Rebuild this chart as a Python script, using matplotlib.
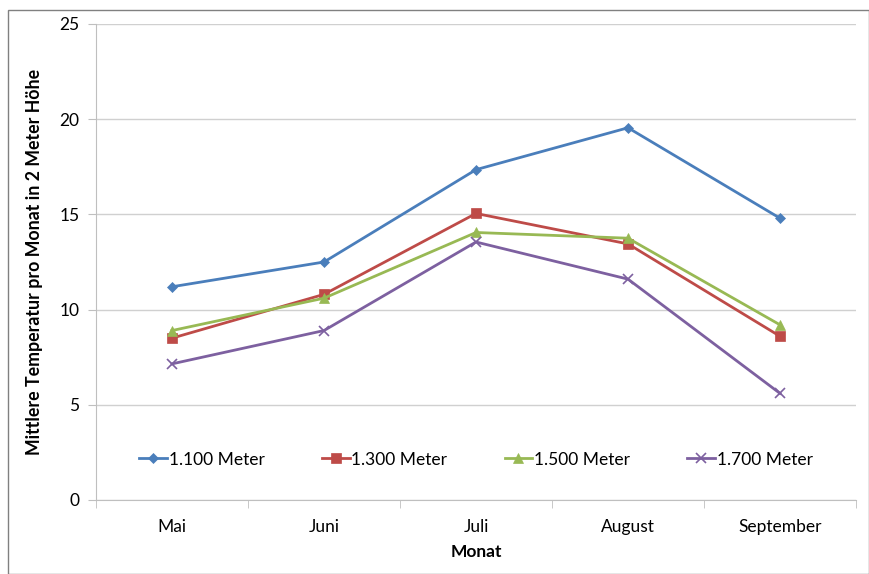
import matplotlib.pyplot as plt
from matplotlib.patches import Rectangle

plt.rcParams['font.family'] = ['Lato', 'DejaVu Sans']

months = ['Mai', 'Juni', 'Juli', 'August', 'September']
labels = ['1.100 Meter', '1.300 Meter', '1.500 Meter', '1.700 Meter']
m1100 = [11.2, 12.5, 17.35, 19.55, 14.8]
m1300 = [8.5, 10.8, 15.05, 13.45, 8.6]
m1500 = [8.9, 10.6, 14.05, 13.75, 9.2]
m1700 = [7.15, 8.9, 13.55, 11.6, 5.6]

colors = ['#4A7EBB', '#BE4B48', '#98B954', '#7D60A0']
markers = ['D', 's', '^', 'x']
msizes = [5, 7, 7, 7]

fig = plt.figure(figsize=(8.7, 5.74), dpi=100)
ax = fig.add_axes([96 / 870, 1 - 500 / 574, 760 / 870, 476 / 574])

x = list(range(len(months)))
for vals, lab, c, mk, ms in zip([m1100, m1300, m1500, m1700], labels, colors, markers, msizes):
    ax.plot(x, vals, color=c, marker=mk, markersize=ms, linewidth=2, label=lab,
            markeredgewidth=1.2 if mk == 'x' else 0.5)

ax.set_xlim(-0.5, 4.5)
ax.set_ylim(0, 25)
ax.set_yticks([0, 5, 10, 15, 20, 25])
ax.set_xticks(x)
ax.set_xticklabels(months)
ax.set_xticks([i - 0.5 for i in range(6)], minor=True)
ax.tick_params(axis='x', which='major', length=0, pad=14, labelsize=12.5, colors='#000000')
ax.tick_params(axis='x', which='minor', length=6, color='#BFBFBF', direction='out')
ax.tick_params(axis='y', length=6, color='#BFBFBF', labelsize=12.5, pad=6)
ax.grid(axis='y', color='#D0D0D0', linewidth=1)
ax.set_axisbelow(True)
for s in ['top', 'right']:
    ax.spines[s].set_visible(False)
ax.spines['left'].set_color('#BFBFBF')
ax.spines['bottom'].set_color('#BFBFBF')

ax.set_xlabel('Monat', fontsize=12.5, fontweight='bold', labelpad=6)
ax.set_ylabel('Mittlere Temperatur pro Monat in 2 Meter Höhe', fontsize=12.8, fontweight='bold', labelpad=12)

ax.legend(loc='center', bbox_to_anchor=(0.5, 0.085), ncol=4, frameon=False,
          fontsize=12.5, handlelength=1.6, handletextpad=0.1, columnspacing=3.3)

fig.patches.append(Rectangle((8 / 870, 0), 861 / 870, 1 - 10 / 574, transform=fig.transFigure,
                             fill=False, edgecolor='#808080', linewidth=1))

fig.savefig('out.png', dpi=100)
